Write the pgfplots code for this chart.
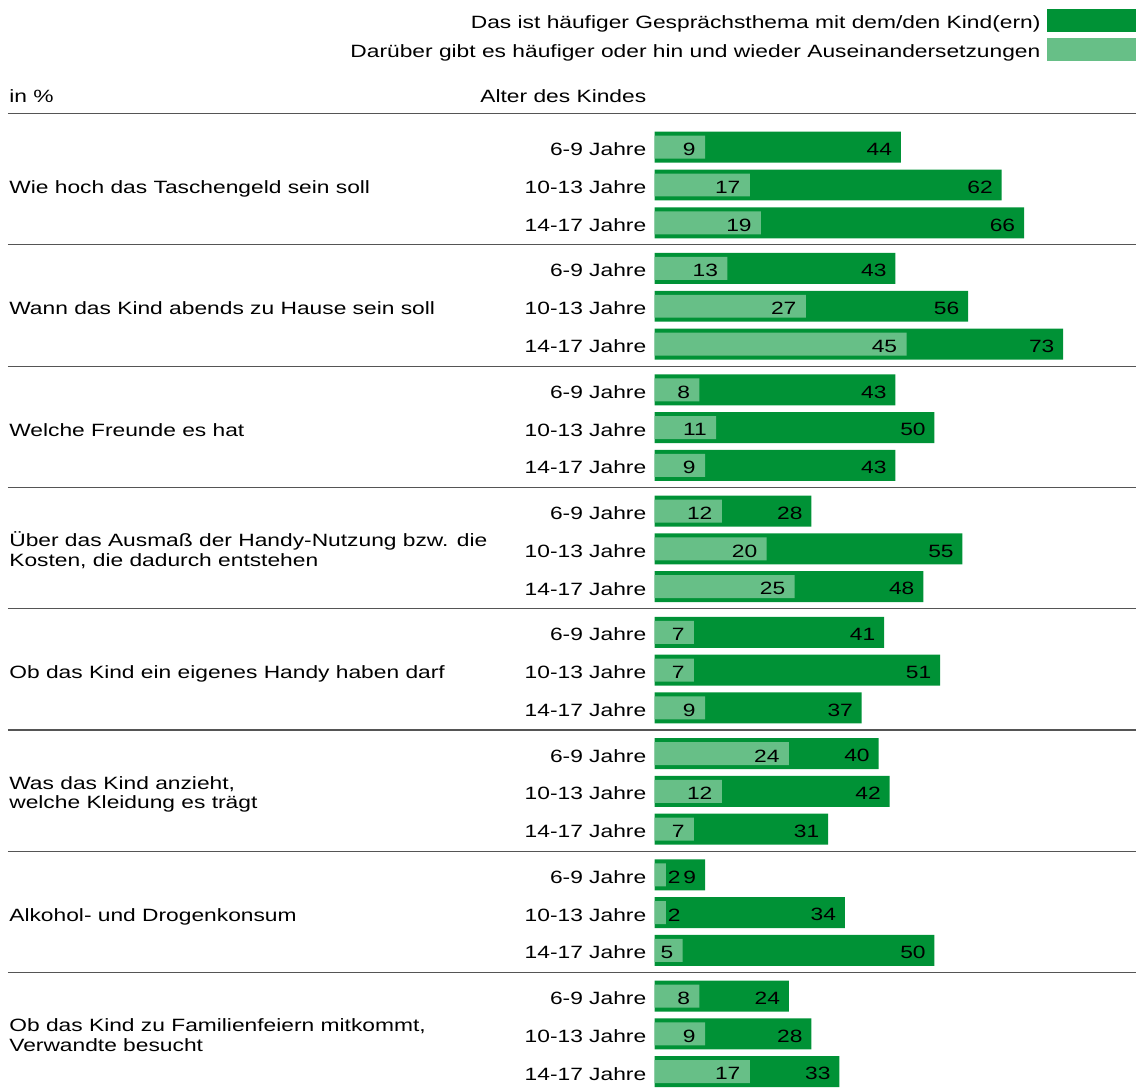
\documentclass[border=0pt]{standalone}
\usepackage{fontspec}
\setmainfont{Liberation Sans}[FakeStretch=1.28]
\usepackage{pgfplots}
\pgfplotsset{compat=1.18}
\usepackage{pgfplotstable}
\definecolor{dkg}{HTML}{009236}
\definecolor{ltg}{HTML}{67BF87}
\definecolor{rulec}{HTML}{555555}

\pgfplotstableread{
pos    light dark
147.3  9     44
185.1  17    62
222.9  19    66
268.6  13    43
306.4  27    56
344.2  45    73
390.0  8     43
427.8  11    50
465.6  9     43
511.3  12    28
549.1  20    55
586.9  25    48
632.6  7     41
670.4  7     51
708.2  9     37
754.0  24    40
791.8  12    42
829.6  7     31
875.3  2     9
913.1  2     34
950.9  5     50
996.6  8     24
1034.4 9     28
1072.2 17    33
}\data

\begin{document}
\fontsize{8.9pt}{11pt}\selectfont
\begin{tikzpicture}
\begin{axis}[
  width=241pt, height=545.5pt, scale only axis,
  xmin=0, xmax=86.07, ymin=0, ymax=1091, y dir=reverse,
  axis line style={draw=none},
  xtick=\empty,
  ytick={147.3,185.1,222.9,268.6,306.4,344.2,390.0,427.8,465.6,511.3,549.1,586.9,632.6,670.4,708.2,754.0,791.8,829.6,875.3,913.1,950.9,996.6,1034.4,1072.2},
  yticklabels={6-9 Jahre,10-13 Jahre,14-17 Jahre,6-9 Jahre,10-13 Jahre,14-17 Jahre,6-9 Jahre,10-13 Jahre,14-17 Jahre,6-9 Jahre,10-13 Jahre,14-17 Jahre,6-9 Jahre,10-13 Jahre,14-17 Jahre,6-9 Jahre,10-13 Jahre,14-17 Jahre,6-9 Jahre,10-13 Jahre,14-17 Jahre,6-9 Jahre,10-13 Jahre,14-17 Jahre},
  major tick length=0pt,
  yticklabel style={anchor=base east, inner sep=0pt, xshift=-4pt, yshift=-4.25pt},
  clip=false,
  /pgf/number format/assume math mode=true,
  legend plot pos=right,
  legend cell align=right,
  legend style={at={(1,0.99175)}, anchor=north east, draw=none, fill=none,
    inner sep=0pt, outer sep=0pt, row sep=3pt,
    nodes={inner sep=0pt},
    /tikz/every odd column/.append style={column sep=3.5pt}},
]
\addplot[xbar, bar shift=0pt, bar width=31, fill=dkg, draw=none,
  legend image code/.code={\fill[dkg] (0pt,-4.5pt) rectangle (44.5pt,7pt);},
  nodes near coords, point meta=x,
  every node near coord/.append style={anchor=east, inner sep=0pt, xshift=-4.25pt, yshift=-1.1pt, text=black}]
  table[x=dark, y=pos]{\data};
\addplot[xbar, bar shift=0pt, bar width=23, fill=ltg, draw=none,
  legend image code/.code={\fill[ltg] (0pt,-4.5pt) rectangle (44.5pt,7pt);}]
  table[x=light, y=pos]{\data};
% light-bar value labels: right-aligned inside the bar
\addplot[forget plot, xbar, bar shift=0pt, bar width=23, draw=none, fill=none,
  skip coords between index={18}{20},
  nodes near coords, point meta=x,
  every node near coord/.append style={anchor=east, inner sep=0pt, xshift=-4.5pt, yshift=-1.1pt, text=black}]
  table[x=light, y=pos]{\data};
% very short light bars: label just right of the bar
\addplot[forget plot, xbar, bar shift=0pt, bar width=23, draw=none, fill=none,
  nodes near coords, point meta=x,
  every node near coord/.append style={anchor=west, inner sep=0pt, xshift=0.8pt, yshift=-1.1pt, text=black}]
  coordinates {(2,875.3) (2,913.1)};
\legend{Das ist häufiger Gesprächsthema mit dem/den Kind(ern), Darüber gibt es häufiger oder hin und wieder Auseinandersetzungen}

% separator rules
\draw[rulec, line width=0.6pt] (axis cs:-115.54,113.5) -- (axis cs:86.07,113.5);
\draw[rulec, line width=0.6pt] (axis cs:-115.54,245) -- (axis cs:86.07,245);
\draw[rulec, line width=0.6pt] (axis cs:-115.54,366.33) -- (axis cs:86.07,366.33);
\draw[rulec, line width=0.6pt] (axis cs:-115.54,487.67) -- (axis cs:86.07,487.67);
\draw[rulec, line width=0.6pt] (axis cs:-115.54,609) -- (axis cs:86.07,609);
\draw[rulec, line width=0.6pt] (axis cs:-115.54,730.33) -- (axis cs:86.07,730.33);
\draw[rulec, line width=0.6pt] (axis cs:-115.54,851.67) -- (axis cs:86.07,851.67);
\draw[rulec, line width=0.6pt] (axis cs:-115.54,973) -- (axis cs:86.07,973);

% headers
\node[anchor=base west, inner sep=0pt] at (axis cs:-115.36,102.3) {in \%};
\node[anchor=base east, inner sep=0pt] at (axis cs:-1.43,102.3) {Alter des Kindes};

% group labels
\node[anchor=base west, inner sep=0pt] at (axis cs:-115.36,193.6) {Wie hoch das Taschengeld sein soll};
\node[anchor=base west, inner sep=0pt] at (axis cs:-115.36,314.9) {Wann das Kind abends zu Hause sein soll};
\node[anchor=base west, inner sep=0pt] at (axis cs:-115.36,436.3) {Welche Freunde es hat};
\node[anchor=base west, inner sep=0pt] at (axis cs:-115.36,547.1) {Über das Ausmaß der Handy-Nutzung bzw. die};
\node[anchor=base west, inner sep=0pt] at (axis cs:-115.36,566.6) {Kosten, die dadurch entstehen};
\node[anchor=base west, inner sep=0pt] at (axis cs:-115.36,678.9) {Ob das Kind ein eigenes Handy haben darf};
\node[anchor=base west, inner sep=0pt] at (axis cs:-115.36,789.8) {Was das Kind anzieht,};
\node[anchor=base west, inner sep=0pt] at (axis cs:-115.36,809.3) {welche Kleidung es trägt};
\node[anchor=base west, inner sep=0pt] at (axis cs:-115.36,921.6) {Alkohol- und Drogenkonsum};
\node[anchor=base west, inner sep=0pt] at (axis cs:-115.36,1032.4) {Ob das Kind zu Familienfeiern mitkommt,};
\node[anchor=base west, inner sep=0pt] at (axis cs:-115.36,1051.9) {Verwandte besucht};

% page frame
\path (axis cs:-116.96,0) rectangle (axis cs:86.07,1091);
\end{axis}
\end{tikzpicture}
\end{document}
